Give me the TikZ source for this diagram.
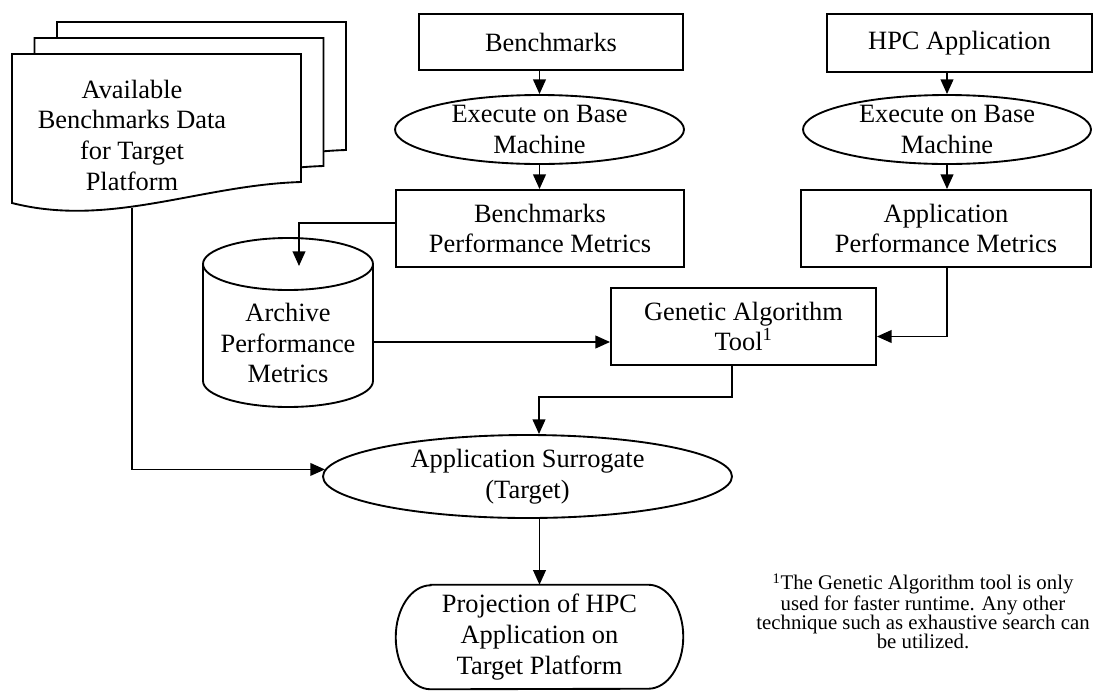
\documentclass[tikz,border=0pt]{standalone}
\usepackage{fontspec}
\setmainfont{Liberation Serif}
\usetikzlibrary{arrows.meta,calc,shapes.geometric}

\tikzset{
  base/.style={font=\fontsize{19.8}{23}\selectfont, align=center, inner sep=0pt},
  procbox/.style={base, draw, line width=1.4pt, rectangle},
  runoval/.style={base, draw, line width=1.4pt, ellipse},
  outline/.style={line width=1.4pt, fill=white, line join=miter},
  arr/.style={line width=1.4pt, -{Triangle[length=11pt,width=9.5pt]}},
  plain/.style={line width=1.4pt},
  note/.style={font=\fontsize{15.6}{14.2}\selectfont, align=center, inner sep=0pt}
}

\begin{document}
\begin{tikzpicture}[x=0.75pt, y=-0.75pt]
\useasboundingbox (0,0) rectangle (1095,690);

% stacked document symbol (back to front)
\foreach \dx/\dy in {45/-32, 22.5/-16, 0/0}{
  \begin{scope}[shift={(\dx,\dy)}]
    \draw[outline] (12,203) -- (12,54) -- (301,54) -- (301,182)
      .. controls (200,185) and (110,228) .. (12,203) -- cycle;
  \end{scope}
}
\node[base] (doc) at (132,135) {Available\\Benchmarks Data\\for Target\\Platform};
\coordinate (docout) at (132,208);

% benchmark column
\node[procbox, minimum width=264*0.75pt, minimum height=56*0.75pt] (bench) at (551,42) {Benchmarks};
\node[runoval, minimum width=289*0.75pt, minimum height=69*0.75pt] (exec1) at (539.5,129.5) {Execute on Base\\Machine};
\node[procbox, minimum width=288*0.75pt, minimum height=77*0.75pt] (bpm) at (540,228.5) {Benchmarks\\Performance Metrics};

% application column
\node[procbox, minimum width=265*0.75pt, minimum height=58*0.75pt] (hpc) at (959.5,43) {HPC Application};
\node[runoval, minimum width=288*0.75pt, minimum height=69*0.75pt] (exec2) at (947,129.5) {Execute on Base\\Machine};
\node[procbox, minimum width=290*0.75pt, minimum height=77*0.75pt] (app) at (946,228.5) {Application\\Performance Metrics};

% archive database (cylinder)
\draw[outline] (203,381) -- (203,264)
  arc[start angle=180, end angle=0, x radius=63.75pt, y radius=19.5pt]
  -- (373,381)
  arc[start angle=0, end angle=-180, x radius=63.75pt, y radius=19.5pt] -- cycle;
\draw[plain] (203,264) arc[start angle=180, end angle=360, x radius=63.75pt, y radius=19.5pt];
\node[base] (arch) at (288,343) {Archive\\Performance\\Metrics};
\coordinate (arctop) at (299,266);
\coordinate (archR) at (373,342);

% genetic algorithm
\node[procbox, minimum width=265*0.75pt, minimum height=77*0.75pt] (ga) at (743.5,326.5) {Genetic Algorithm\\Tool\textsuperscript{1}};

% surrogate
\node[runoval, minimum width=409*0.75pt, minimum height=83*0.75pt] (sur) at (527.5,476.5) {Application Surrogate\\(Target)};

% terminal: projection
\node[base, minimum width=287*0.75pt, minimum height=104*0.75pt] (proj) at (539.5,637) {Projection of HPC\\Application on\\Target Platform};
\draw[plain] ($(proj.north west)+(35,0)$) -- ($(proj.north east)+(-35,0)$)
  arc[start angle=90, end angle=-90, x radius=26.25pt, y radius=39pt]
  -- ($(proj.south west)+(35,0)$)
  arc[start angle=270, end angle=90, x radius=26.25pt, y radius=39pt] -- cycle;

% footnote
\node[note] (fn) at (923,611) {\textsuperscript{1}The Genetic Algorithm tool is only\\used for faster runtime. Any other\\technique such as exhaustive search can\\be utilized.};

% connectors
\draw[arr] (bench.south -| exec1.north) -- (exec1.north);
\draw[arr] (exec1.south) -- (bpm.north -| exec1.south);
\draw[arr] (hpc.south -| exec2.north) -- (exec2.north);
\draw[arr] (exec2.south) -- (app.north -| exec2.south);
\draw[arr] ([yshift=4pt]bpm.west) -| (arctop);
\draw[arr] (archR) -- (archR -| ga.west);
\draw[arr] (app.south -| exec2.south) |- ($(ga.east)+(0,10)$);
\coordinate (gabend) at (539,397);
\draw[arr] ([xshift=-8.6pt]ga.south) |- (gabend) -- (gabend |- sur.north);
\draw[arr] (docout) |- (sur.178);
\draw[arr] (sur.south -| proj.north) -- (proj.north);
\end{tikzpicture}
\end{document}
